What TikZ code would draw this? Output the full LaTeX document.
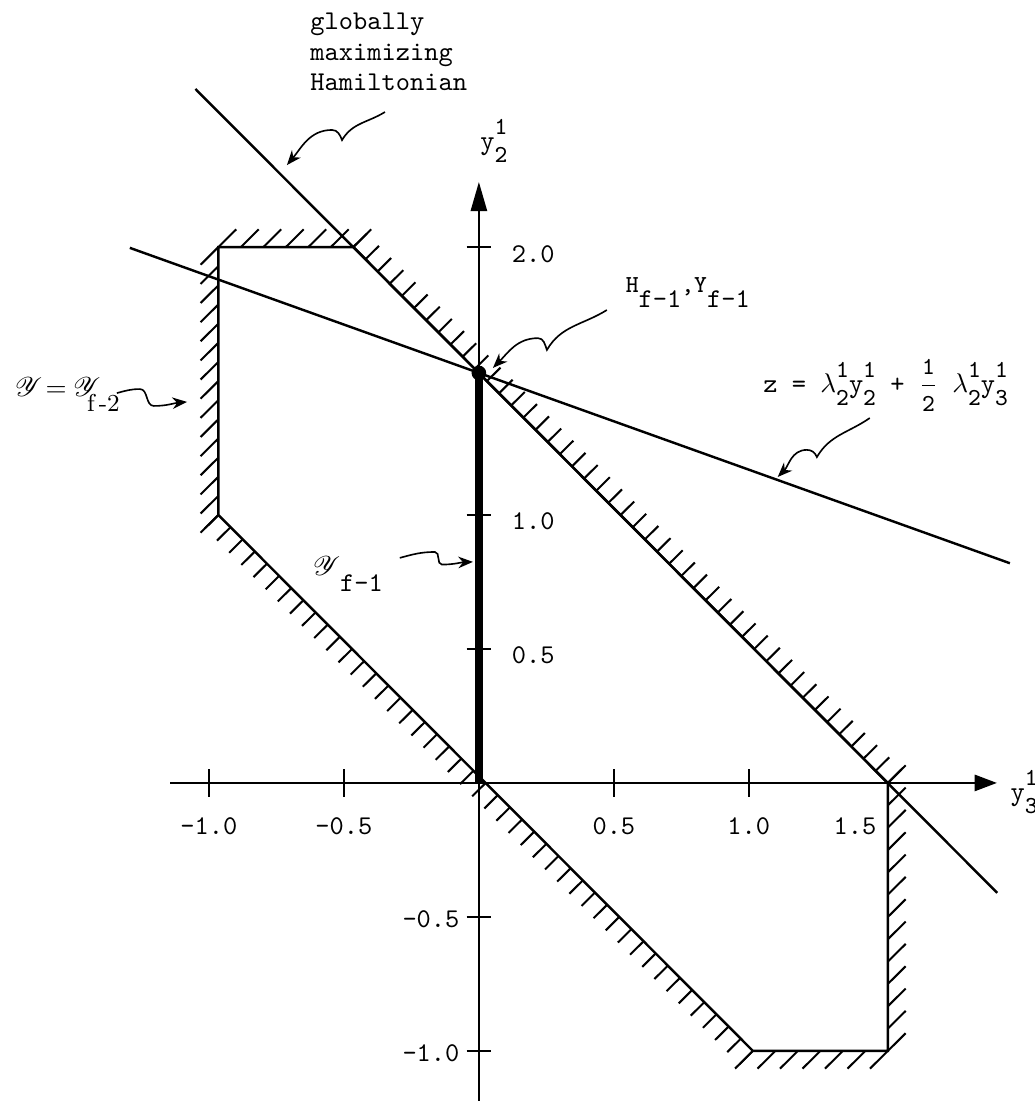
\documentclass[tikz,border=0pt]{standalone}
\usepackage{amsmath,amssymb}
\usepackage{mathrsfs}
\usepackage{tikz}
\usetikzlibrary{positioning,arrows.meta,calc}

\newcommand{\tsup}[3]{#1\makebox[0pt][l]{\raisebox{1.3ex}{\small #2}}\raisebox{-1.1ex}{\small #3}}

\begin{document}
\begin{tikzpicture}[
          x=3.5cm, y=3.474cm,
          every node/.style={font=\ttfamily},
          edge/.style={line width=0.9pt},
          hatch/.style={line width=0.75pt},
          axis/.style={line width=0.9pt, -{Triangle[length=#1, width=2.1mm]}},
          squig/.style={line width=0.6pt, -{Stealth[length=1.9mm, width=1.5mm]}},
          ticklab/.style={inner sep=1pt},
          dot/.style={circle, fill=black, inner sep=0pt, minimum size=0.19cm}
      ]
        \useasboundingbox (-1.774,-1.187) rectangle (2.059,2.922);
        \coordinate (p1) at (-0.965,2);
        \coordinate (p2) at (-0.465,2);
        \coordinate (p3) at (1.515,0);
        \coordinate (p4) at (1.515,-1);
        \coordinate (p5) at (1.015,-1);
        \coordinate (p6) at (-0.965,1);
        \coordinate (O) at (0,0);
        \coordinate (H) at (0,1.53);
        \coordinate (ybot) at (0,-1.19);
        \coordinate (ytop) at (0,2.243);
        \coordinate (xl) at (-1.144,0);
        \coordinate (xr) at (1.919,0);
        \coordinate (ha) at (-1.05,2.59);
        \coordinate (hb) at (1.92,-0.41);
        \coordinate (za) at (-1.293,1.997);
        \coordinate (zb) at (1.967,0.82);

        \draw[axis=3.8mm] (ybot) -- (ytop);
        \draw[axis=2.9mm] (xl) -- (xr);
        \foreach \x/\t [count=\i] in {-1/-1.0, -0.5/-0.5, 0.5/0.5, 1/1.0} {
          \draw[edge] (\x,-0.052) -- (\x,0.052);
          \node[ticklab] (xt\i) at (\x,-0.162) {\t};
        }
        \node[ticklab] (xt5) at (1.393,-0.162) {1.5};
        \foreach \y/\t [count=\i] in {2/2.0, 1/1.0, 0.5/0.5} {
          \draw[edge] (-0.045,\y) -- (0.045,\y);
          \node[ticklab, anchor=west] (yt\i) at (0.11,\y-0.025) {\t};
        }
        \foreach \y/\t [count=\i] in {-0.5/-0.5, -1/-1.0} {
          \draw[edge] (-0.045,\y) -- (0.045,\y);
          \node[ticklab, anchor=east] (yn\i) at (-0.06,\y-0.01) {\t};
        }

        \draw[edge] (p1) -- (p2) -- (p3) -- (p4) -- (p5) -- (p6) -- cycle;
        \foreach \a/\b/\n/\l in {p1/p2/6/0.066, p2/p3/44/0.05, p3/p4/12/0.066, p4/p5/6/-0.066, p5/p6/44/-0.05, p6/p1/14/-0.066}
          \foreach \i in {0,...,\n}
            \draw[hatch] ($(\a)!\i/\n!(\b)$) -- ++(\l,\l);

        \draw[edge] (ha) -- (hb);
        \draw[edge] (za) -- (zb);
        \draw[line width=2.8pt] (O) -- (H);
        \node[dot] (Hdot) at (H) {};

        \node[align=left, anchor=west, inner sep=0pt, font={\ttfamily\fontsize{10}{11.2}\selectfont}] (glob) at (-0.626,2.728) {globally\\maximizing\\Hamiltonian};
        \node (ylab2) at (0.056,2.396) {\tsup{y}{1}{2}};
        \node (ylab3) at (2.02,-0.035) {\tsup{y}{1}{3}};
        \node (Hlab) at (0.774,1.83) {\raisebox{1.3ex}{\small H}f-1\raisebox{1.3ex}{\small ,Y}f-1};
        \node (zlab) at (1.507,1.485) {z = \tsup{$\lambda$}{1}{2}\tsup{y}{1}{2} + $\dfrac{\text{\small\ttfamily 1}}{\text{\small\ttfamily 2}}$ \tsup{$\lambda$}{1}{2}\tsup{y}{1}{3}};
        \node[anchor=west, inner sep=0pt] (Yf2) at (-1.72,1.45) {$\mathscr{Y}$\rmfamily\hspace{0.12em}=\hspace{0.25em}$\mathscr{Y}$\hspace{-0.5em}\raisebox{-1.3ex}{\small f\,-2}};
        \node (Yf1) at (-0.485,0.78) {$\mathscr{Y}$\raisebox{-1.3ex}{f-1}};

        \coordinate (gs) at (-0.348,2.504);
        \coordinate (gt) at (-0.711,2.306);
        \draw[squig] (gs) to[out=212,in=60] (-0.507,2.399) to[out=110,in=0] (-0.544,2.437) to[out=180,in=50] (gt);
        \coordinate (hs) at (0.474,1.765);
        \coordinate (ht) at (0.052,1.549);
        \draw[squig] (hs) to[out=212,in=60] (0.252,1.616) to[out=110,in=0] (0.219,1.660) to[out=180,in=45] (ht);
        \coordinate (zs) at (1.448,1.362);
        \coordinate (zt) at (1.107,1.142);
        \draw[squig] (zs) to[out=215,in=60] (1.252,1.216) to[out=110,in=0] (1.215,1.243) to[out=180,in=45] (zt);
        \coordinate (ys) at (-1.341,1.455);
        \coordinate (yt) at (-1.081,1.422);
        \draw[squig] (ys) to[out=15,in=180] (-1.256,1.470) to[out=0,in=180] (-1.204,1.407) to[out=0,in=185] (yt);
        \coordinate (fs) at (-0.293,0.840);
        \coordinate (ft) at (-0.022,0.825);
        \draw[squig] (fs) to[out=15,in=180] (-0.163,0.862) to[out=0,in=180] (-0.137,0.815) to[out=0,in=182] (ft);
      \end{tikzpicture}
\end{document}
